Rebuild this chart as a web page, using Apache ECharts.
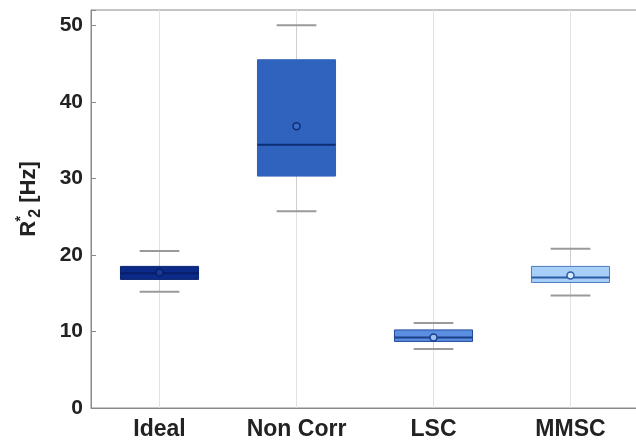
<!DOCTYPE html>
<html>
<head>
<meta charset="utf-8">
<script src="https://cdn.jsdelivr.net/npm/echarts@6/dist/echarts.min.js"></script>
<style>
html,body{margin:0;padding:0;background:#fff;overflow:hidden;width:636px;height:441px;}
#chart{width:640px;height:441px;}
</style>
</head>
<body>
<div id="chart"></div>
<script>
const categories = ['Ideal', 'Non Corr', 'LSC', 'MMSC'];
const whiskerLow  = [15.2, 25.7, 7.7, 14.7];
const q1          = [16.8, 30.3, 8.7, 16.4];
const median      = [17.6, 34.4, 9.2, 17.05];
const q3          = [18.5, 45.5, 10.2, 18.5];
const whiskerHigh = [20.5, 50.0, 11.1, 20.8];
const mean        = [17.7, 36.8, 9.2, 17.3];
const yTicks = [0, 10, 20, 30, 40, 50];

const fills   = ['#0b2a8a', '#3063be', '#5b8ee0', '#a8cff7'];
const borders = ['#0a2370', '#2f5fb8', '#1e4a9a', '#4a7cc0'];
const medCol  = ['#081e66', '#0d2e75', '#1c3f8a', '#2a5ca8'];
const meanFill = ['#1a3a9a', '#3a6cc8', '#9cc0f0', '#d8ebff'];

const data = categories.map((c, i) => [i, whiskerLow[i], q1[i], median[i], q3[i], whiskerHigh[i], mean[i]]);

const chart = echarts.init(document.getElementById('chart'), null, {renderer: 'canvas'});
const FONT = '"Liberation Sans", Arial, Helvetica, sans-serif';

function renderItem(params, api) {
  const i = api.value(0);
  const cs = params.coordSys;
  const band = api.size([1, 0])[0];
  const boxW = band * 0.57;
  const capW = band * 0.29;
  const x = api.coord([i, 0])[0];
  const yLo = api.coord([i, api.value(1)])[1];
  const yQ1 = api.coord([i, api.value(2)])[1];
  const yMed = api.coord([i, api.value(3)])[1];
  const yQ3 = api.coord([i, api.value(4)])[1];
  const yHi = api.coord([i, api.value(5)])[1];
  const yMean = api.coord([i, api.value(6)])[1];
  return {
    type: 'group',
    children: [
      {type: 'line', shape: {x1: x, y1: cs.y, x2: x, y2: cs.y + cs.height}, style: {stroke: '#e2e2e2', lineWidth: 1}},
      {type: 'line', shape: {x1: x, y1: yHi, x2: x, y2: yQ3}, style: {stroke: '#cfcfcf', lineWidth: 1}},
      {type: 'line', shape: {x1: x, y1: yQ1, x2: x, y2: yLo}, style: {stroke: '#cfcfcf', lineWidth: 1}},
      {type: 'line', shape: {x1: x - capW / 2, y1: yHi, x2: x + capW / 2, y2: yHi}, style: {stroke: '#9a9a9a', lineWidth: 2}},
      {type: 'line', shape: {x1: x - capW / 2, y1: yLo, x2: x + capW / 2, y2: yLo}, style: {stroke: '#9a9a9a', lineWidth: 2}},
      {type: 'rect', shape: {x: x - boxW / 2, y: yQ3, width: boxW, height: yQ1 - yQ3}, style: {fill: fills[i], stroke: borders[i], lineWidth: 1}},
      {type: 'line', shape: {x1: x - boxW / 2, y1: yMed, x2: x + boxW / 2, y2: yMed}, style: {stroke: medCol[i], lineWidth: 2}},
      {type: 'circle', shape: {cx: x, cy: yMean, r: 3.5}, style: {fill: meanFill[i], stroke: medCol[i], lineWidth: 1.5}}
    ]
  };
}

chart.setOption({
  animation: false,
  backgroundColor: '#ffffff',
  grid: {left: 91, right: 1, top: 10, bottom: 33, show: true, borderColor: '#8a8a8a', borderWidth: 1, backgroundColor: 'transparent'},
  xAxis: {
    type: 'category',
    data: categories,
    axisLine: {show: true, lineStyle: {color: '#8a8a8a'}},
    axisTick: {show: true, inside: true, alignWithLabel: true, length: 5, lineStyle: {color: '#8a8a8a'}},
    axisLabel: {color: '#222', fontSize: 23, fontWeight: 'bold', fontFamily: FONT, margin: 10},
    splitLine: {show: false}
  },
  yAxis: {
    type: 'value',
    min: 0, max: 52, interval: 10,
    axisLine: {show: true, lineStyle: {color: '#8a8a8a'}},
    axisTick: {show: true, inside: true, length: 5, lineStyle: {color: '#8a8a8a'}},
    axisLabel: {color: '#222', fontSize: 21, fontWeight: 'bold', fontFamily: FONT, margin: 8,
      formatter: v => yTicks.indexOf(v) >= 0 ? String(v) : ''},
    splitLine: {show: false}
  },
  graphic: [{
    type: 'text',
    x: 29, y: 199,
    rotation: Math.PI / 2,
    style: {
      text: 'R{sup|*}{sub|2} [Hz]',
      fill: '#222',
      font: 'bold 22px ' + FONT,
      align: 'center',
      verticalAlign: 'middle',
      rich: {
        sup: {fontSize: 14, fontWeight: 'bold', fontFamily: FONT, fill: '#222', width: 0, verticalAlign: 'top', lineHeight: 30, padding: [0, 0, 10, 2]},
        sub: {fontSize: 16, fontWeight: 'bold', fontFamily: FONT, fill: '#222', verticalAlign: 'bottom', lineHeight: 30, padding: [10, 0, 0, 1]}
      }
    }
  }],
  series: [{
    type: 'custom',
    renderItem: renderItem,
    encode: {x: 0, y: [1, 5]},
    data: data,
    clip: false
  }]
});
</script>
</body>
</html>
